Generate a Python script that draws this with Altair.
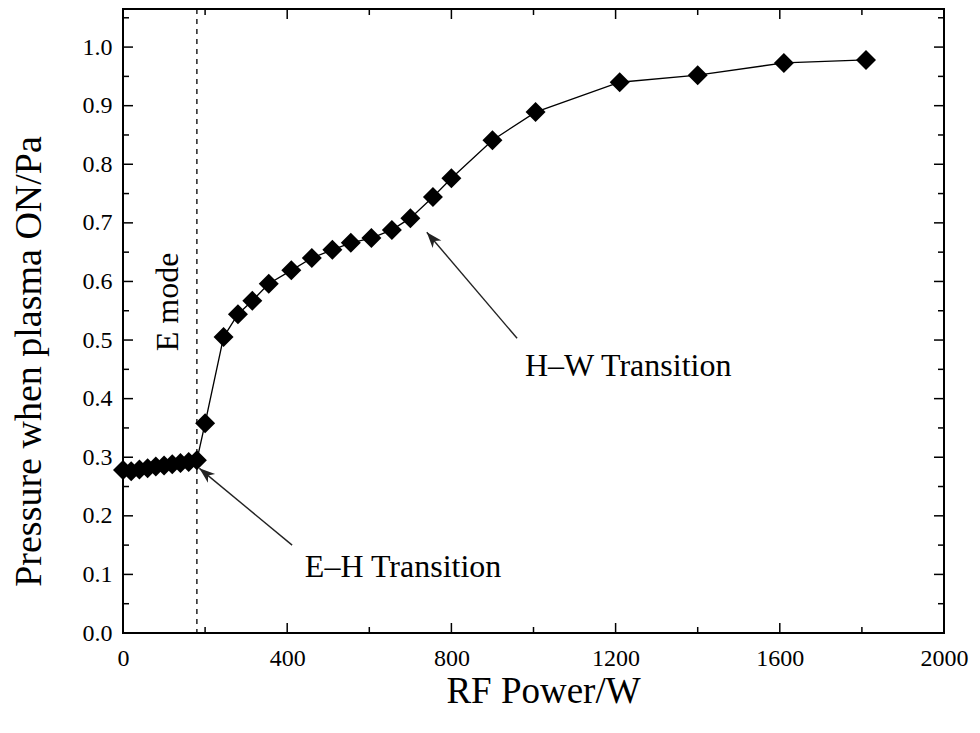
import math
import altair as alt
import pandas as pd

# ---- data ----
power = [0, 20, 40, 60, 80, 100, 120, 140, 160, 180,
         200, 245, 280, 315, 355, 410, 460, 510, 555, 605,
         655, 700, 755, 800, 900, 1005, 1210, 1400, 1610, 1810]
pressure = [0.278, 0.276, 0.279, 0.281, 0.284, 0.286, 0.288, 0.290, 0.292, 0.295,
            0.358, 0.505, 0.544, 0.567, 0.596, 0.619, 0.640, 0.654, 0.666, 0.674,
            0.688, 0.708, 0.744, 0.776, 0.841, 0.889, 0.940, 0.952, 0.973, 0.978]

x_major = [0, 400, 800, 1200, 1600, 2000]
x_minor = [200, 600, 1000, 1400, 1800]
y_major = [0.0, 0.1, 0.2, 0.3, 0.4, 0.5, 0.6, 0.7, 0.8, 0.9, 1.0]
y_minor = [0.05, 0.15, 0.25, 0.35, 0.45, 0.55, 0.65, 0.75, 0.85, 0.95, 1.05]

e_mode_limit = [180]

ann_labels = ["E–H Transition", "H–W Transition"]
ann_text_x = [443, 979]
ann_text_y = [0.113, 0.456]
arrow_tail_x = [412, 960]
arrow_tail_y = [0.150, 0.503]
arrow_tip_x = [186, 740]
arrow_tip_y = [0.281, 0.684]

emode_label = ["E mode"]
emode_x = [110]
emode_y = [0.565]

# ---- layout ----
W, H = 821, 624
XMAX, YMAX = 2000, 1.065
FONT = "Liberation Serif"

xs = alt.Scale(domain=[0, XMAX], nice=False, zero=False)
ys = alt.Scale(domain=[0, YMAX], nice=False)

X_TITLE = "RF Power/W"
Y_TITLE = "Pressure when plasma ON/Pa"

x_axis = alt.Axis(values=x_major, format="d",
                  labelFont=FONT, labelFontSize=24, labelColor="black",
                  labelPadding=13, labelFlush=False, labelOverlap=False,
                  ticks=False, domain=False, grid=False,
                  titleFont=FONT, titleFontSize=37, titleFontWeight="normal",
                  titleColor="black", titleX=420, titleY=58,
                  titleAlign="center", titleBaseline="middle")
y_axis = alt.Axis(values=y_major, format=".1f",
                  labelFont=FONT, labelFontSize=24, labelColor="black",
                  labelPadding=11, labelFlush=False, labelOverlap=False,
                  ticks=False, domain=False, grid=False,
                  titleFont=FONT, titleFontSize=38, titleFontWeight="normal",
                  titleColor="black", titleX=-94, titleY=352, titleAngle=270,
                  titleAlign="center", titleBaseline="middle")


def X(field):
    return alt.X(field, scale=xs, axis=x_axis, title=X_TITLE)


def Y(field):
    return alt.Y(field, scale=ys, axis=y_axis, title=Y_TITLE)


df = pd.DataFrame({"power": power, "pressure": pressure})

line = alt.Chart(df).mark_line(color="black", strokeWidth=1.3).encode(
    x=X("power:Q"), y=Y("pressure:Q"))
points = alt.Chart(df).mark_point(shape="diamond", filled=True, size=400,
                                  color="black", opacity=1).encode(
    x=X("power:Q"), y=Y("pressure:Q"))


def xticks(vals, length, top):
    d = pd.DataFrame({"power": vals})
    y0, y1 = (0, length) if top else (H, H - length)
    return alt.Chart(d).mark_rule(color="black", strokeWidth=1.5).encode(
        x=X("power:Q"), y=alt.value(y0), y2=alt.value(y1))


def yticks(vals, length, right):
    d = pd.DataFrame({"pressure": vals})
    x0, x1 = (W, W - length) if right else (0, length)
    return alt.Chart(d).mark_rule(color="black", strokeWidth=1.5).encode(
        y=Y("pressure:Q"), x=alt.value(x0), x2=alt.value(x1))


tick_layers = [
    xticks(x_major, 10, False), xticks(x_minor, 6, False),
    xticks(x_major, 10, True), xticks(x_minor, 6, True),
    yticks(y_major, 10, False), yticks(y_minor, 6, False),
    yticks(y_major, 10, True), yticks(y_minor, 6, True),
]

dash = alt.Chart(pd.DataFrame({"power": e_mode_limit})).mark_rule(
    color="black", strokeWidth=1.3, strokeDash=[5, 5]).encode(x=X("power:Q"))

# arrows
angles = []
for tx, ty, hx, hy in zip(arrow_tail_x, arrow_tail_y, arrow_tip_x, arrow_tip_y):
    dx = (hx - tx) * W / XMAX
    dy = -(hy - ty) * H / YMAX
    angles.append(math.degrees(math.atan2(dx, -dy)) % 360)

arr_df = pd.DataFrame({"power": arrow_tail_x, "pressure": arrow_tail_y,
                       "hx": arrow_tip_x, "hy": arrow_tip_y, "ang": angles})
shafts = alt.Chart(arr_df).mark_rule(color="#222222", strokeWidth=1.4).encode(
    x=X("power:Q"), y=Y("pressure:Q"), x2="hx:Q", y2="hy:Q")
heads_df = pd.DataFrame({"power": arrow_tip_x, "pressure": arrow_tip_y, "ang": angles})
heads = alt.Chart(heads_df).mark_point(
    shape="M0,0L-0.36,1L0,0.72L0.36,1Z", filled=True, size=1000,
    color="#222222", opacity=1).encode(
    x=X("power:Q"), y=Y("pressure:Q"),
    angle=alt.Angle("ang:Q", scale=None))

ann_df = pd.DataFrame({"label": ann_labels, "power": ann_text_x, "pressure": ann_text_y})
ann_text = alt.Chart(ann_df).mark_text(
    font=FONT, fontSize=32, color="black", align="left", baseline="middle").encode(
    x=X("power:Q"), y=Y("pressure:Q"), text="label:N")

emode_df = pd.DataFrame({"label": emode_label, "power": emode_x, "pressure": emode_y})
emode_text = alt.Chart(emode_df).mark_text(
    font=FONT, fontSize=32, color="black", align="center", baseline="middle",
    angle=270).encode(
    x=X("power:Q"), y=Y("pressure:Q"), text="label:N")

chart = alt.layer(line, *tick_layers, dash, shafts, heads, points,
                  ann_text, emode_text).properties(
    width=W, height=H,
    padding={"left": 123, "top": 9, "right": 36, "bottom": 100},
    autosize=alt.AutoSizeParams(type="none"),
    background="white",
).configure_view(stroke="black", strokeWidth=2)

chart.save("out.html", embed_options={"renderer": "svg", "actions": False})
